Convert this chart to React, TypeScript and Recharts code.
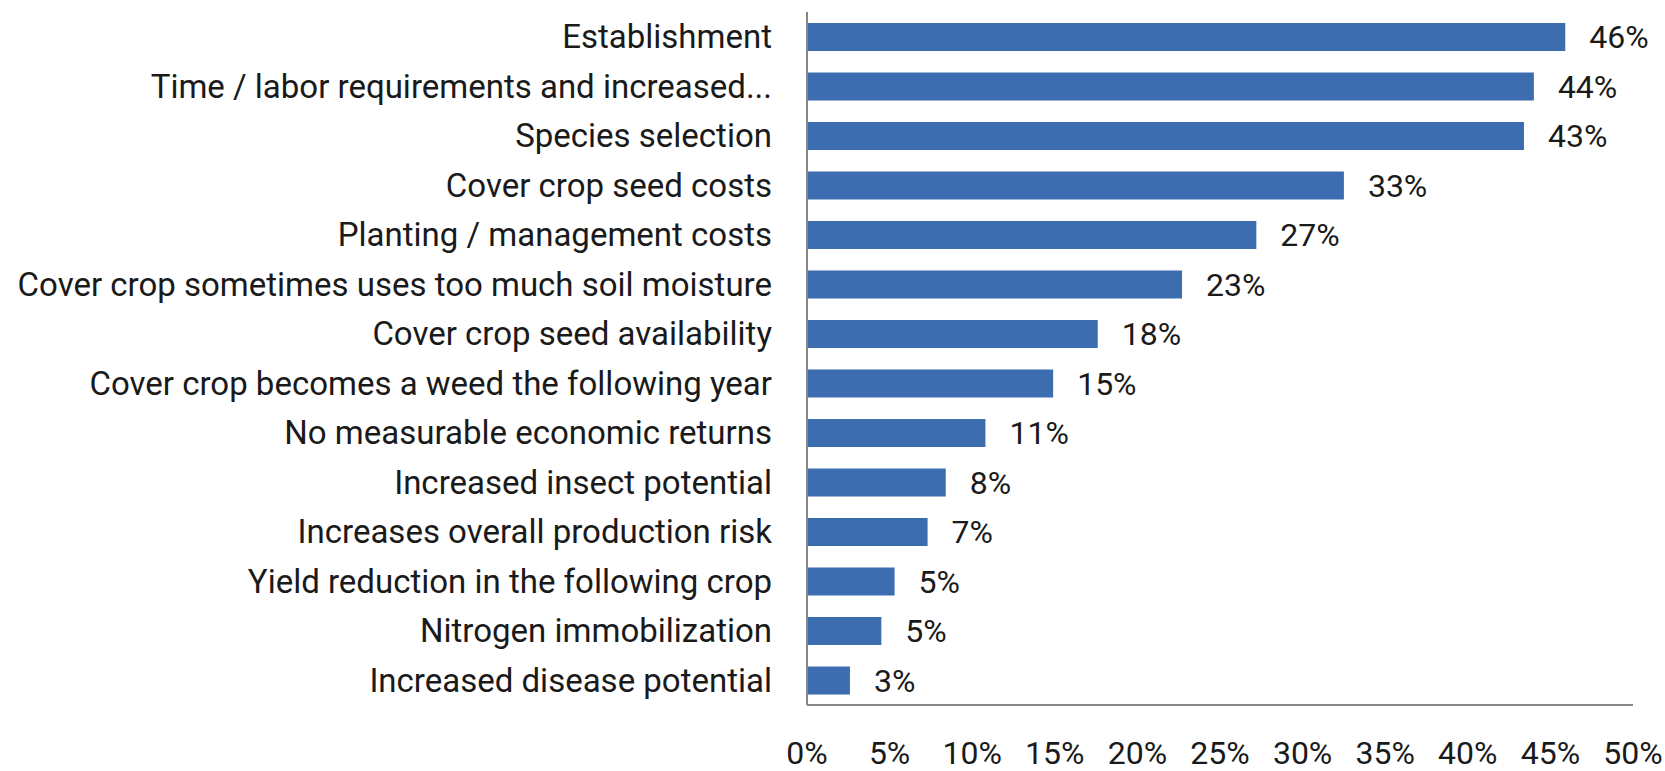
import React from 'react';
import { BarChart, Bar, XAxis, YAxis, LabelList } from 'recharts';

const categories = [
  'Establishment',
  'Time / labor requirements and increased...',
  'Species selection',
  'Cover crop seed costs',
  'Planting / management costs',
  'Cover crop sometimes uses too much soil moisture',
  'Cover crop seed availability',
  'Cover crop becomes a weed the following year',
  'No measurable economic returns',
  'Increased insect potential',
  'Increases overall production risk',
  'Yield reduction in the following crop',
  'Nitrogen immobilization',
  'Increased disease potential',
];

const shares = [45.9, 44.0, 43.4, 32.5, 27.2, 22.7, 17.6, 14.9, 10.8, 8.4, 7.3, 5.3, 4.5, 2.6];

const xTicks = [0, 5, 10, 15, 20, 25, 30, 35, 40, 45, 50];

const FONT = '"Liberation Sans Narrow", "Roboto", sans-serif';

const data = categories.map((name, i) => ({ name, value: shares[i] }));

export default function App() {
  return (
    <div style={{ position: 'absolute', left: 0, top: 0, width: 1665, height: 771, background: '#fff' }}>
      <BarChart
        width={1665}
        height={771}
        data={data}
        layout="vertical"
        barCategoryGap="22%"
        margin={{ top: 12, right: 32, bottom: 36, left: 0 }}
      >
        <XAxis
          type="number"
          domain={[0, 50]}
          ticks={xTicks}
          height={30}
          tickFormatter={(v: number) => `${v}%`}
          axisLine={{ stroke: '#868686', strokeWidth: 2 }}
          tickLine={false}
          tickMargin={30}
          tick={{ fill: '#1a1a1a', fontSize: 32, fontFamily: FONT }}
          interval={0}
        />
        <YAxis
          type="category"
          dataKey="name"
          width={807}
          axisLine={{ stroke: '#868686', strokeWidth: 2 }}
          tickLine={false}
          tickMargin={29}
          tick={{ fill: '#1a1a1a', fontSize: 33, fontFamily: FONT }}
          interval={0}
        />
        <Bar dataKey="value" fill="#3D6DB1" isAnimationActive={false}>
          <LabelList
            dataKey="value"
            position="right"
            offset={24}
            formatter={(v: number) => `${Math.round(v)}%`}
            style={{ fill: '#1a1a1a', fontSize: 32, fontFamily: FONT }}
          />
        </Bar>
      </BarChart>
    </div>
  );
}
